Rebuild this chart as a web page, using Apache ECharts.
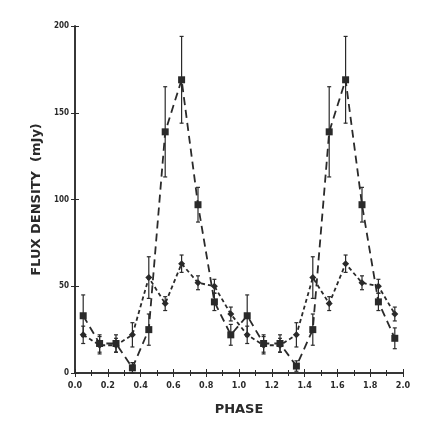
<!DOCTYPE html>
<html>
<head>
<meta charset="utf-8">
<script src="https://cdn.jsdelivr.net/npm/echarts@6/dist/echarts.min.js"></script>
<style>
  html, body { margin: 0; padding: 0; background: #fff; }
  #chart { width: 431px; height: 431px; }
</style>
</head>
<body>
<div id="chart"></div>
<script>
// phase bins (data folded and shown twice)
const phase = [0.05, 0.15, 0.25, 0.35, 0.45, 0.55, 0.65, 0.75, 0.85, 0.95,
               1.05, 1.15, 1.25, 1.35, 1.45, 1.55, 1.65, 1.75, 1.85, 1.95]

// squares, big flare
const squareFlux = [33, 17, 17, 3, 25, 139, 169, 97, 41, 22,
                    33, 17, 17, 4, 25, 139, 169, 97, 41, 20]
const squareErr = [12, 5, 5, 3, 9, 26, 25, 10, 5, 6,
                   12, 5, 5, 3, 9, 26, 25, 10, 5, 6]

// dots, small bump
const dotFlux = [22, 16, 16, 22, 55, 40, 63, 52, 50, 34,
                 22, 16, 16, 22, 55, 40, 63, 52, 50, 34]
const dotErr = [5, 5, 4, 7, 12, 4, 5, 4, 4, 4,
                5, 5, 4, 7, 12, 4, 5, 4, 4, 4]

const xTicks = ['0.0', '0.2', '0.4', '0.6', '0.8', '1.0', '1.2', '1.4', '1.6', '1.8', '2.0']
const yTicks = [0, 50, 100, 150, 200]

const ink = '#2a2a2a'
const tickFont = '"DejaVu Sans Condensed", "Liberation Sans Narrow", sans-serif'

const errData = (vals, errs) => phase.map((p, i) => [p, vals[i] - errs[i], vals[i] + errs[i]])

// error bar renderer
const renderErr = (params, api) => {
  const lo = api.coord([api.value(0), api.value(1)])
  const hi = api.coord([api.value(0), api.value(2)])
  const w = 2
  const st = { stroke: ink, lineWidth: 1.2 }
  return {
    type: 'group',
    children: [
      { type: 'line', shape: { x1: lo[0], y1: lo[1], x2: hi[0], y2: hi[1] }, style: st },
      { type: 'line', shape: { x1: lo[0] - w, y1: lo[1], x2: lo[0] + w, y2: lo[1] }, style: st },
      { type: 'line', shape: { x1: hi[0] - w, y1: hi[1], x2: hi[0] + w, y2: hi[1] }, style: st }
    ]
  }
}

const baseX = {
  type: 'value',
  min: 0,
  max: 2,
  interval: 0.2,
  axisLine: { lineStyle: { color: ink, width: 1.5 } },
  axisTick: { inside: true, length: 4, lineStyle: { color: ink } },
  minorTick: { show: true, splitNumber: 2, length: 3, lineStyle: { color: ink } },
  splitLine: { show: false }
}
const baseY = {
  type: 'value',
  min: 0,
  max: 200,
  interval: 50,
  axisLine: { show: true, lineStyle: { color: ink, width: 1.5 } },
  axisTick: { show: true, inside: true, length: 4, lineStyle: { color: ink } },
  splitLine: { show: false }
}

const chart = echarts.init(document.getElementById('chart'))
chart.setOption({
  backgroundColor: '#fff',
  animation: false,
  grid: { left: 75, right: 28, top: 26, bottom: 58 },
  xAxis: [
    {
      ...baseX,
      position: 'bottom',
      name: 'PHASE',
      nameLocation: 'middle',
      nameGap: 30,
      nameTextStyle: { color: ink, fontSize: 13, fontWeight: 'bold', fontFamily: 'DejaVu Sans, sans-serif' },
      axisLabel: {
        color: ink, fontSize: 9, fontWeight: 'bold', fontFamily: tickFont, margin: 8,
        formatter: v => xTicks[Math.round(v / 0.2)]
      }
    },
    { ...baseX, position: 'top', axisLabel: { show: false } }
  ],
  yAxis: [
    {
      ...baseY,
      position: 'left',
      name: 'FLUX DENSITY  (mJy)',
      nameLocation: 'middle',
      nameGap: 32,
      nameTextStyle: { color: ink, fontSize: 13, fontWeight: 'bold', fontFamily: 'DejaVu Sans, sans-serif' },
      axisLabel: {
        color: ink, fontSize: 8, fontWeight: 'bold', fontFamily: tickFont, margin: 6,
        formatter: v => (yTicks.includes(v) ? String(v) : '')
      }
    },
    { ...baseY, position: 'right', axisLabel: { show: false } }
  ],
  series: [
    {
      type: 'line',
      data: phase.map((p, i) => [p, squareFlux[i]]),
      symbol: 'rect',
      symbolSize: 7,
      itemStyle: { color: ink },
      lineStyle: { color: ink, width: 1.8, type: [8, 5] },
      z: 3
    },
    {
      type: 'line',
      data: phase.map((p, i) => [p, dotFlux[i]]),
      symbol: 'diamond',
      symbolSize: 7,
      itemStyle: { color: ink },
      lineStyle: { color: ink, width: 1.8, type: [4, 3] },
      z: 3
    },
    { type: 'custom', renderItem: renderErr, data: errData(squareFlux, squareErr), z: 2 },
    { type: 'custom', renderItem: renderErr, data: errData(dotFlux, dotErr), z: 2 }
  ]
})
</script>
</body>
</html>
